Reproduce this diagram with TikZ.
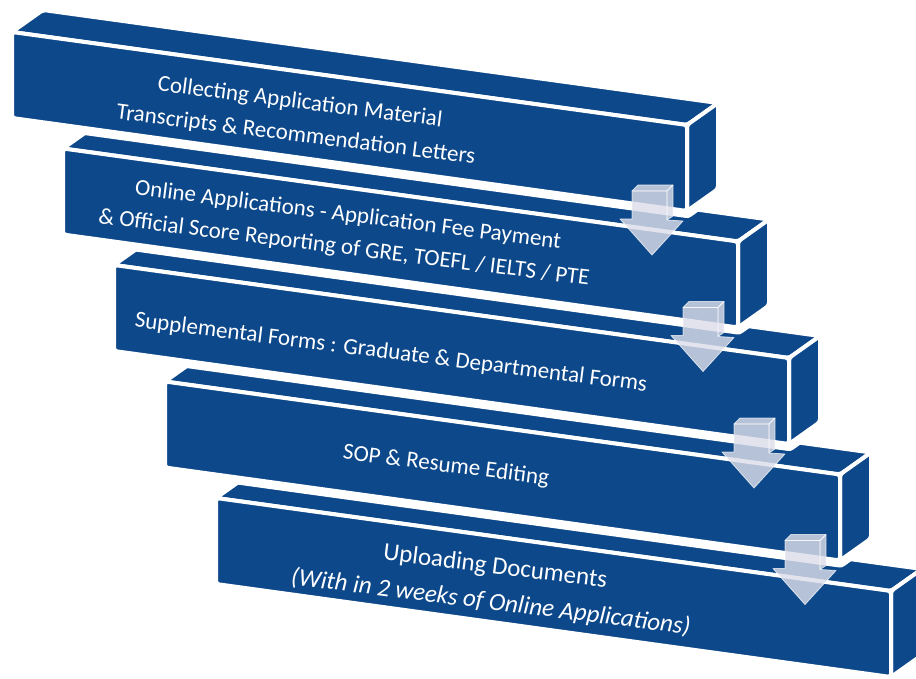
\documentclass[tikz,border=0pt]{standalone}
\usepackage{fontspec}
\setmainfont{Carlito}
\definecolor{blk}{RGB}{13,72,138}
\definecolor{arw}{RGB}{220,222,234}
\begin{document}
\begin{tikzpicture}[x=1pt,y=-1pt,
  face/.style={fill=blk,draw=white,line width=4pt,rounded corners=3pt,line join=round},
  halo/.style={fill=white,draw=white,line width=14pt,line join=round},
  arrowbody/.style={fill=arw,fill opacity=0.82,draw=white,draw opacity=0.7,line width=0.8pt,line join=round},
  txt/.style={text=white,font=\fontsize{23}{33}\selectfont,rotate=-7.2,inner sep=0pt,align=center}]
\useasboundingbox (0,0) rectangle (916,679);
\foreach \i in {4,3,2,1,0} {
  \pgfmathsetmacro\bx{12+51*\i}
  \pgfmathsetmacro\by{32+116.5*\i}
  \begin{scope}[shift={(\bx,\by)}]
    \coordinate (ftl) at (0,0);
    \coordinate (ftr) at (675,93);
    \coordinate (fbr) at (675,179);
    \coordinate (fbl) at (0,86);
    \coordinate (btl) at (31,-22);
    \coordinate (btr) at (706,71);
    \coordinate (bbr) at (706,157);
    \path[halo] (ftl)--(btl)--(btr)--(bbr)--(fbr)--(fbl)--cycle;
    \path[face] (ftl)--(ftr)--(btr)--(btl)--cycle;
    \path[face] (ftr)--(btr)--(bbr)--(fbr)--cycle;
    \path[face] (ftl)--(ftr)--(fbr)--(fbl)--cycle;
  \end{scope}
}
\foreach \i in {0,1,2,3} {
  \pgfmathsetmacro\cx{652+51*\i}
  \pgfmathsetmacro\ty{185+116.5*\i}
  \begin{scope}[shift={(\cx,\ty)}]
    \path[arrowbody] (-20,6)--(-14,0)--(21,0)--(15,6)--cycle;
    \path[arrowbody] (15,6)--(21,0)--(21,31)--(15,35)--cycle;
    \path[arrowbody] (-20,6)--(15,6)--(15,35)--(31,36)--(0,70)--(-32,34)--(-20,34)--cycle;
  \end{scope}
}
\node[txt] (b1) at (298,119) {Collecting Application Material\\Transcripts \& Recommendation Letters};
\node[txt] (b2) at (346,232) {Online Applications - Application Fee Payment\\\& Official Score Reporting of GRE, TOEFL / IELTS / PTE};
\node[txt] (b3) at (391,353) {Supplemental Forms : Graduate \& Departmental Forms};
\node[txt] (b4) at (446,466) {SOP \& Resume Editing};
\node[txt,font=\fontsize{25}{36}\selectfont] (b5) at (493,585) {Uploading Documents\\{\itshape (With in 2 weeks of Online Applications)}};
\end{tikzpicture}
\end{document}
